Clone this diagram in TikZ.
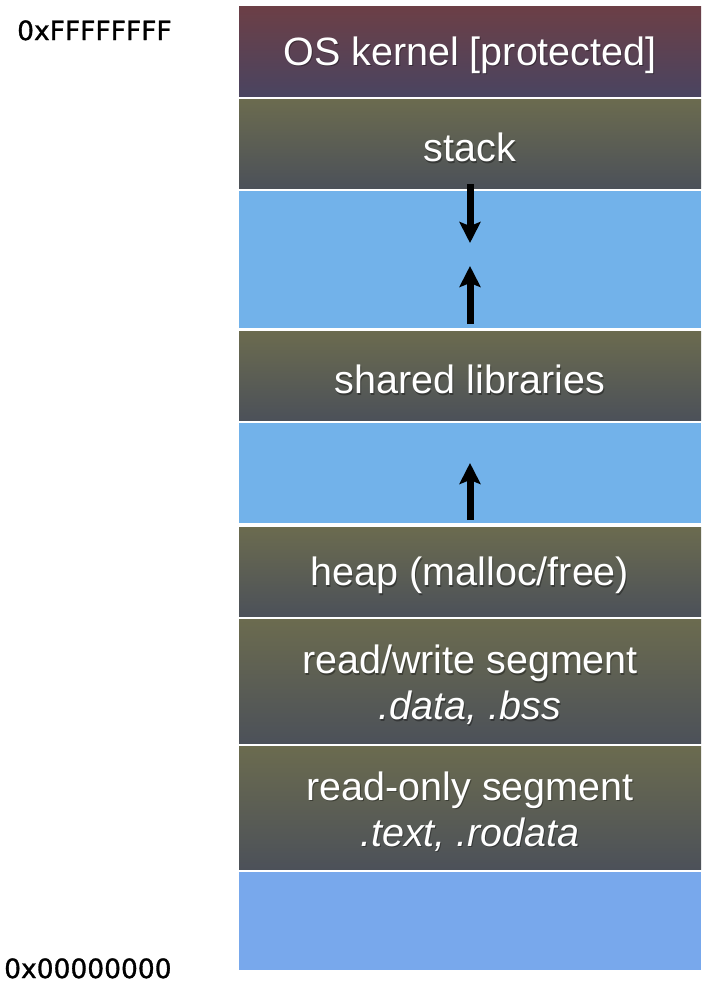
\documentclass[tikz,border=0pt]{standalone}
\usepackage{fontspec}
\setmainfont{Liberation Sans}
\newfontfamily\hexfont[FakeBold=1.2]{DejaVu Sans}
\usetikzlibrary{arrows.meta}
\definecolor{kerntop}{HTML}{6C3F46}
\definecolor{kernbot}{HTML}{4A4460}
\definecolor{segtop}{HTML}{6B6B4F}
\definecolor{segbot}{HTML}{4C5159}
\definecolor{gapblue}{HTML}{72B2EA}
\definecolor{lowblue}{HTML}{78A8EC}
\tikzset{
  seg/.style={rectangle, minimum width=462pt, inner sep=0pt, outer sep=0pt,
    top color=segtop, bottom color=segbot},
  kern/.style={seg, top color=kerntop, bottom color=kernbot},
  segtext/.style={inner sep=0pt, text=white, align=center,
    font=\fontsize{39.5}{46}\selectfont},
  segshadow/.style={segtext, text=black, opacity=0.35},
  gapbox/.style={rectangle, minimum width=462pt, inner sep=0pt, outer sep=0pt, fill=gapblue},
  lowbox/.style={gapbox, fill=lowblue},
  hexlabel/.style={anchor=base west, inner sep=0pt, font=\hexfont\fontsize{26.5}{30}\selectfont},
  growarrow/.style={line width=7pt, -{Stealth[length=21pt,width=21pt,inset=4pt]}}
}
\begin{document}
\begin{tikzpicture}[x=1pt,y=-1pt]
\useasboundingbox (0,0) rectangle (726,986);
\node[kern, minimum height=90pt] (kernel) at (470,51) {};
\node[seg, minimum height=89pt] (stack) at (470,143.5) {};
\node[gapbox, minimum height=137pt] (gap1) at (470,259.5) {};
\node[seg, minimum height=89pt] (shlib) at (470,375.5) {};
\node[gapbox, minimum height=100pt] (gap2) at (470,473) {};
\node[seg, minimum height=89pt] (heap) at (470,571.5) {};
\node[seg, minimum height=124pt] (rw) at (470,681) {};
\node[seg, minimum height=123pt] (ro) at (470,807.5) {};
\node[lowbox, minimum height=98pt] (gap3) at (470,921) {};
% text shadows
\node[segshadow] at ([xshift=1pt,yshift=-5.5pt]kernel.center) {OS kernel [protected]};
\node[segshadow] at ([xshift=1pt,yshift=-5.5pt]stack.center) {stack};
\node[segshadow] at ([xshift=1pt,yshift=-5.5pt]shlib.center) {shared libraries};
\node[segshadow] at ([xshift=1pt,yshift=-5.5pt]heap.center) {heap (malloc/free)};
\node[segshadow] at ([xshift=1pt,yshift=-5.5pt]rw.center) {read/write segment\\\textit{.data, .bss}};
\node[segshadow] at ([xshift=1pt,yshift=-5.5pt]ro.center) {read-only segment\\\textit{.text, .rodata}};
% texts
\node[segtext] (kernelt) at ([yshift=-4pt]kernel.center) {OS kernel [protected]};
\node[segtext] (stackt) at ([yshift=-4pt]stack.center) {stack};
\node[segtext] (shlibt) at ([yshift=-4pt]shlib.center) {shared libraries};
\node[segtext] (heapt) at ([yshift=-4pt]heap.center) {heap (malloc/free)};
\node[segtext] (rwt) at ([yshift=-4pt]rw.center) {read/write segment\\\textit{.data, .bss}};
\node[segtext] (rot) at ([yshift=-4pt]ro.center) {read-only segment\\\textit{.text, .rodata}};
\node[hexlabel] (hi) at (17,40) {0xFFFFFFFF};
\node[hexlabel] (lo) at (4,978) {0x00000000};
\coordinate (a1s) at (470,184);
\coordinate (a1e) at (470,243);
\coordinate (a2s) at (470,324);
\coordinate (a2e) at (470,266);
\coordinate (a3s) at (470,520);
\coordinate (a3e) at (470,463);
\draw[growarrow] (a1s) -- (a1e);
\draw[growarrow] (a2s) -- (a2e);
\draw[growarrow] (a3s) -- (a3e);
\end{tikzpicture}
\end{document}
